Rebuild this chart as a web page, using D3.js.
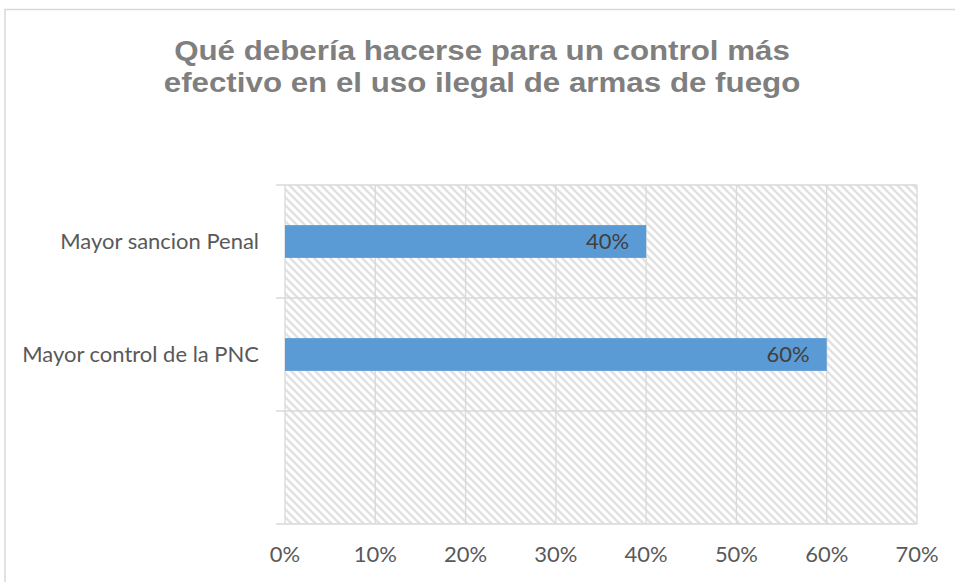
<!DOCTYPE html>
<html>
<head>
<meta charset="utf-8">
<script src="https://cdn.jsdelivr.net/npm/d3@7/dist/d3.min.js"></script>
<style>
  html, body { margin: 0; padding: 0; background: #fff; }
  svg { display: block; }
</style>
</head>
<body>
<svg id="chart" width="955" height="582"></svg>
<script>
const titleLines = ["Qué debería hacerse para un control más", "efectivo en el uso ilegal de armas de fuego"];
const categories = ["Mayor sancion Penal", "Mayor control de la PNC", ""];
const values = [0.40, 0.60, null];
const tickValues = [0, 0.1, 0.2, 0.3, 0.4, 0.5, 0.6, 0.7];

const svg = d3.select("#chart");
const W = 955, H = 582;
const plot = { left: 285, right: 917, top: 185, bottom: 524 };
const labelFont = "Lato, 'Open Sans', sans-serif";

// measure to match Calibri-like widths
const probe = svg.append("text").attr("font-family", labelFont).attr("font-size", 24).text("Mayor control de la PNC");
const measured = probe.node().getComputedTextLength();
probe.remove();
const fs = Math.min(24, 24 * 237 / measured);

// outer border
svg.append("rect").attr("x", 5).attr("y", 9.5).attr("width", W + 10).attr("height", H + 10)
  .attr("fill", "#fff").attr("stroke", "#d9d9d9").attr("stroke-width", 1.5);

// title (glyphs are wider in the reference: stretch horizontally)
const titleX = 482;
const titleG = svg.append("g");
const title = titleG.append("text").attr("x", 0).attr("y", 0).attr("text-anchor", "middle")
  .attr("font-family", "'Liberation Sans', Arial, sans-serif").attr("font-weight", "bold")
  .attr("font-size", 28).attr("fill", "#7f7f7f");
titleLines.forEach((t, i) => title.append("tspan").attr("x", 0).attr("dy", i === 0 ? 0 : 32.5).text(t));
const t1 = title.select("tspan").node().getComputedTextLength();
const sx = 616 / t1;
titleG.attr("transform", `translate(${titleX},60) scale(${sx},1)`);

// hatch pattern
const defs = svg.append("defs");
const pat = defs.append("pattern").attr("id", "hatch").attr("patternUnits", "userSpaceOnUse")
  .attr("width", 8).attr("height", 8);
pat.append("rect").attr("width", 8).attr("height", 8).attr("fill", "#fff");
pat.append("path").attr("d", "M-2,-2 L10,10 M-2,6 L2,10 M6,-2 L10,2")
  .attr("stroke", "#e1e1e1").attr("stroke-width", 2.4);

const x = d3.scaleLinear().domain([0, 0.7]).range([plot.left, plot.right]);
const y = d3.scaleBand().domain(categories).range([plot.top, plot.bottom])
  .paddingInner(0.71).paddingOuter(0.355);

svg.append("rect").attr("x", plot.left).attr("y", plot.top)
  .attr("width", plot.right - plot.left).attr("height", plot.bottom - plot.top)
  .attr("fill", "url(#hatch)");

// vertical gridlines
svg.append("g").selectAll("line").data(tickValues).join("line")
  .attr("x1", d => x(d)).attr("x2", d => x(d))
  .attr("y1", plot.top).attr("y2", plot.bottom)
  .attr("stroke", "#d9d9d9").attr("stroke-width", 1.3);

// horizontal category boundary lines (with outer ticks)
const step = y.step();
const bounds = d3.range(categories.length + 1).map(i => plot.top + i * step);
svg.append("g").selectAll("line").data(bounds).join("line")
  .attr("x1", plot.left - 9).attr("x2", plot.right)
  .attr("y1", d => d).attr("y2", d => d)
  .attr("stroke", "#d9d9d9").attr("stroke-width", 1.3);

// bars
const data = categories.map((c, i) => ({ c, v: values[i] })).filter(d => d.v != null);
svg.append("g").selectAll("rect").data(data).join("rect")
  .attr("x", x(0)).attr("y", d => y(d.c))
  .attr("width", d => x(d.v) - x(0)).attr("height", y.bandwidth())
  .attr("fill", "#5b9bd5");

// data labels
svg.append("g").selectAll("text").data(data).join("text")
  .attr("x", d => x(d.v) - 17).attr("y", d => y(d.c) + y.bandwidth() / 2)
  .attr("dy", "0.36em").attr("text-anchor", "end")
  .attr("font-family", labelFont).attr("font-size", fs).attr("fill", "#404040")
  .text(d => d3.format(".0%")(d.v));

// category labels
svg.append("g").selectAll("text").data(categories).join("text")
  .attr("x", 259).attr("y", d => y(d) + y.bandwidth() / 2)
  .attr("dy", "0.36em").attr("text-anchor", "end")
  .attr("font-family", labelFont).attr("font-size", fs).attr("fill", "#595959")
  .text(d => d);

// x axis tick labels
svg.append("g").selectAll("text").data(tickValues).join("text")
  .attr("x", d => x(d)).attr("y", 562).attr("text-anchor", "middle")
  .attr("font-family", labelFont).attr("font-size", fs).attr("fill", "#595959")
  .text(d => d3.format(".0%")(d));
</script>
</body>
</html>
